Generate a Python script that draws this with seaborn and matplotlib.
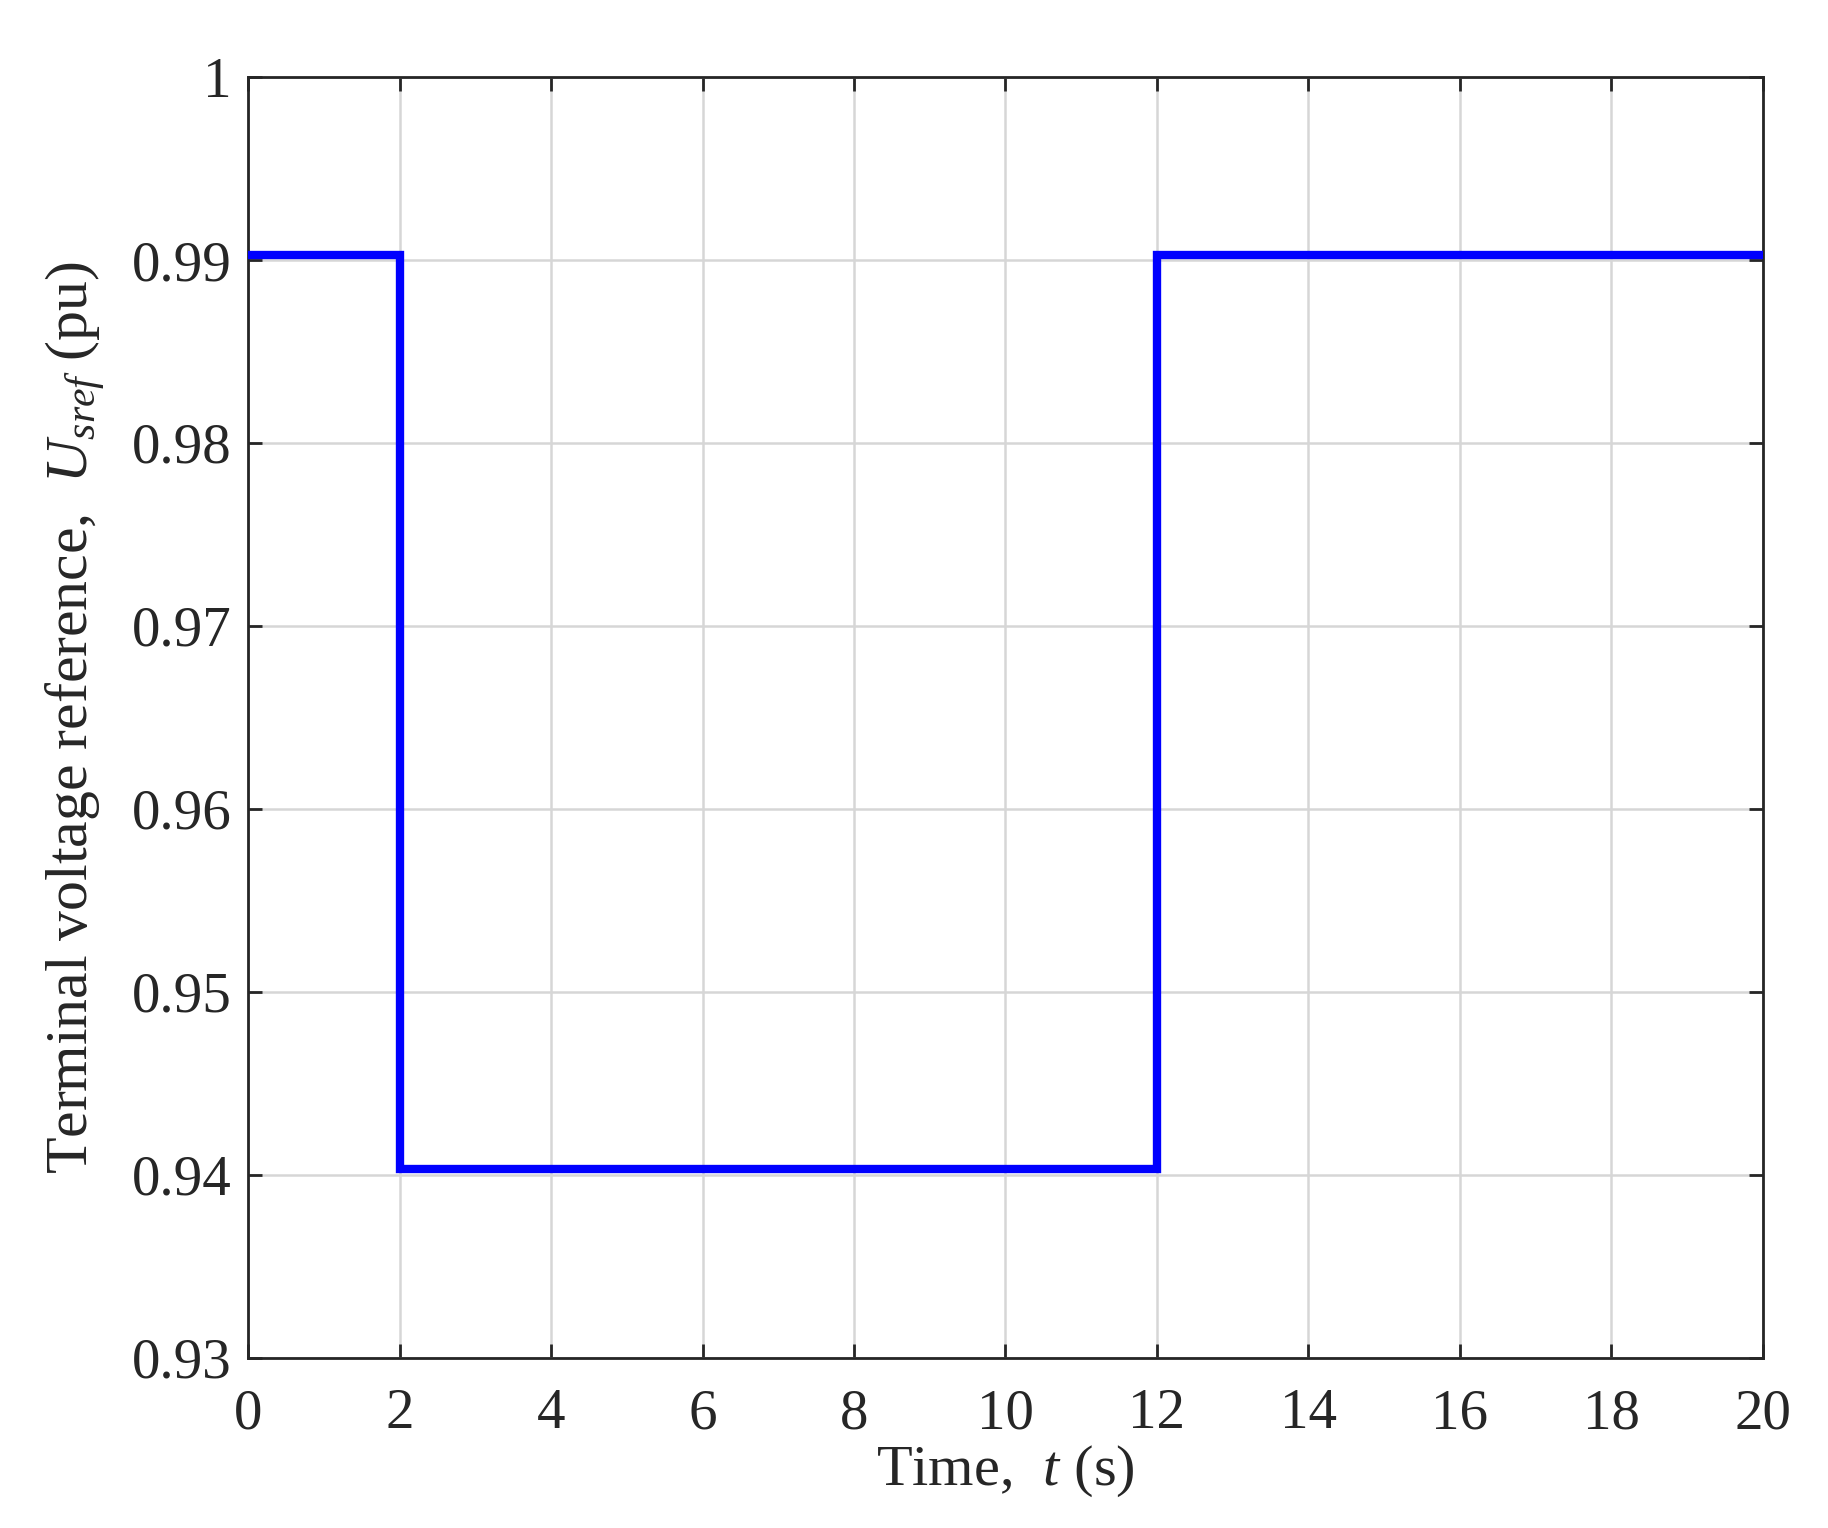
import numpy as np
import pandas as pd
import matplotlib
matplotlib.use("Agg")
import matplotlib.pyplot as plt
import seaborn as sns

# Data: step profile of the terminal voltage reference
time_s = [0, 2, 2, 12, 12, 20]
usref_pu = [0.9903, 0.9903, 0.9403, 0.9403, 0.9903, 0.9903]

x_ticks = [0, 2, 4, 6, 8, 10, 12, 14, 16, 18, 20]
y_ticks = [0.93, 0.94, 0.95, 0.96, 0.97, 0.98, 0.99, 1.0]
y_tick_labels = ["0.93", "0.94", "0.95", "0.96", "0.97", "0.98", "0.99", "1"]

sns.set_theme(style="white")
plt.rcParams['font.family'] = ['Liberation Serif', 'DejaVu Serif']
plt.rcParams['mathtext.fontset'] = 'custom'
plt.rcParams['mathtext.rm'] = 'Liberation Serif'
plt.rcParams['mathtext.it'] = 'Liberation Serif:italic'

df = pd.DataFrame({"t": time_s, "u": usref_pu})

fig = plt.figure(figsize=(18.28, 15.28), dpi=100)
ax = fig.add_axes([0.1357, 0.1113, 0.9644 - 0.1357, 0.9496 - 0.1113])

sns.lineplot(data=df, x="t", y="u", ax=ax, color="#0000ff", linewidth=6.0,
             sort=False, estimator=None, zorder=3)
ax.lines[0].set_solid_joinstyle('miter')

ax.set_xlim(0, 20)
ax.set_ylim(0.93, 1.0)
ax.set_xticks(x_ticks)
ax.set_xticklabels([str(v) for v in x_ticks])
ax.set_yticks(y_ticks)
ax.set_yticklabels(y_tick_labels)

ax.grid(True, color="#d6d6d6", linewidth=1.8, zorder=0)
for s in ax.spines.values():
    s.set_color("#262626")
    s.set_linewidth(2.0)
    s.set_visible(True)

ax.tick_params(axis="both", which="both", direction="in", length=10, width=2,
               color="#262626", labelsize=41, labelcolor="#262626",
               top=True, right=True, bottom=True, left=True)
ax.tick_params(axis="x", pad=22)
ax.tick_params(axis="y", pad=12)

ax.set_xlabel(r"Time,  $t$ (s)", fontsize=42, color="#262626", labelpad=2)
ax.set_ylabel(r"Terminal voltage reference,  $U_{sref}$ (pu)", fontsize=43,
              color="#262626", labelpad=18)

fig.savefig("out.png", dpi=100, facecolor="white")
